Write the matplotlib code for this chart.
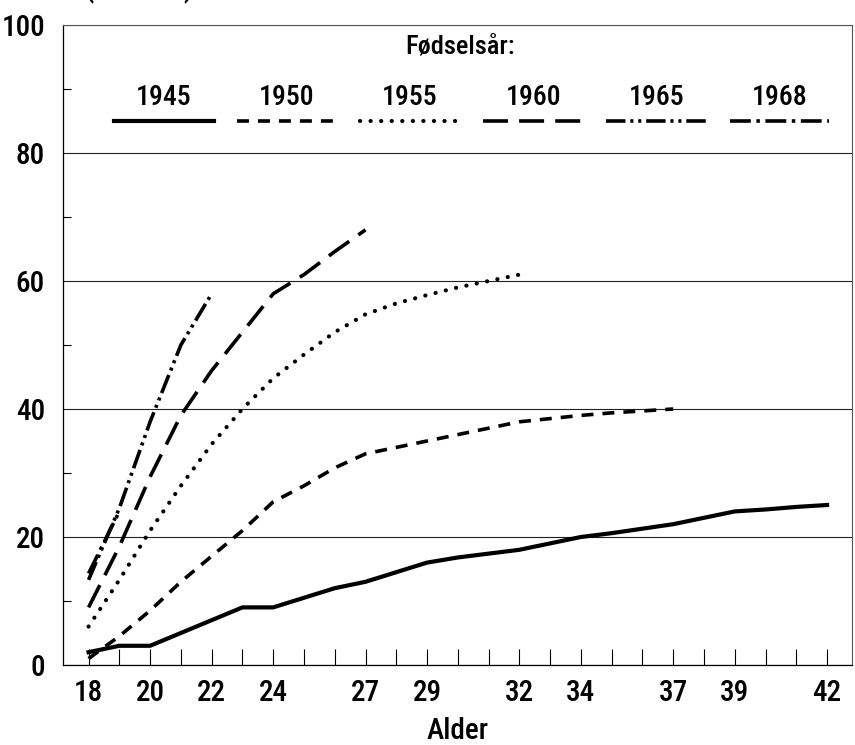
import matplotlib
matplotlib.use("Agg")
import matplotlib.pyplot as plt

plt.rcParams['font.family'] = ['Roboto Condensed', 'Liberation Sans Narrow', 'DejaVu Sans']
plt.rcParams['font.stretch'] = 'condensed'
plt.rcParams['font.weight'] = 'medium'
plt.rcParams['axes.labelweight'] = 'medium'
plt.rcParams['lines.scale_dashes'] = False

# Andel (prosent) etter alder, per fødselskull
birth_years = ["1945", "1950", "1955", "1960", "1965", "1968"]

ages_1945 = list(range(18, 43))
vals_1945 = [2, 3, 3, 5, 7, 9, 9, 10.5, 12, 13, 14.5, 16, 16.8, 17.4, 18,
             19, 20, 20.6, 21.3, 22, 23, 24, 24.3, 24.7, 25]

ages_1950 = list(range(18, 38))
vals_1950 = [1, 4.5, 8.5, 13, 17, 21, 25.5, 28, 30.8, 33, 34, 35, 36, 37, 38,
             38.5, 39, 39.4, 39.7, 40]

ages_1955 = list(range(18, 33))
vals_1955 = [6, 13.3, 21, 28, 34.5, 40, 44.8, 48.5, 52, 54.8, 56.5, 57.8, 59, 60, 61]

ages_1960 = list(range(18, 28))
vals_1960 = [9, 18.5, 29.4, 39, 46, 52, 58, 61, 64.6, 68]

ages_1965 = list(range(18, 23))
vals_1965 = [13.3, 24.5, 38, 50, 58]

ages_1968 = [18, 19]
vals_1968 = [14.3, 24]

xtick_labels = [18, 20, 22, 24, 27, 29, 32, 34, 37, 39, 42]

series = [
    (ages_1945, vals_1945, dict(linestyle='-', linewidth=3.0)),
    (ages_1950, vals_1950, dict(dashes=(8.6, 6.5), linewidth=2.6)),
    (ages_1955, vals_1955, dict(dashes=(0.1, 7.5), linewidth=3.0, dash_capstyle='round')),
    (ages_1960, vals_1960, dict(dashes=(18, 8), linewidth=2.6)),
    (ages_1965, vals_1965, dict(dashes=(14, 3.5, 2.2, 3.5, 2.2, 3.5), linewidth=2.6)),
    (ages_1968, vals_1968, dict(dashes=(15, 4, 2.5, 4), linewidth=2.6)),
]

fig = plt.figure(figsize=(8.55, 7.45), dpi=100)
ax = fig.add_axes([0.0737, 0.1074, 0.9228, 0.859])

for xs, ys, style in series:
    ax.plot(xs, ys, color='black', **style)

ax.set_xlim(17.17, 42.81)
ax.set_ylim(0, 100)

# x ticks at every age, labels only on some
ax.set_xticks(range(18, 43))
ax.set_xticklabels([str(a) if a in xtick_labels else '' for a in range(18, 43)])
ax.tick_params(axis='x', direction='in', length=11.5, width=0.8, pad=10, labelsize=21)

ax.set_yticks([0, 20, 40, 60, 80, 100])
ax.set_yticks([10, 30, 50, 70, 90], minor=True)
ax.tick_params(axis='y', which='major', length=0, pad=13, labelsize=21)
ax.tick_params(axis='y', which='minor', direction='in', length=6, width=0.8)
ax.yaxis.grid(True, which='major', color='#222222', linewidth=0.8)

for s in ['left', 'bottom']:
    ax.spines[s].set_linewidth(0.9)
for s in ['top', 'right']:
    ax.spines[s].set_linewidth(0.8)
    ax.spines[s].set_color('#555555')

ax.set_xlabel('Alder', fontsize=21, labelpad=7)

# legend drawn inside the plot area
ax.text(0.503, 96.6, 'Fødselsår:', transform=ax.get_yaxis_transform(),
        ha='center', va='center', fontsize=19)
for i, (name, (_, _, style)) in enumerate(zip(birth_years, series)):
    cx = 20.45 + 4 * i
    ax.text(cx, 88.6, name, ha='center', va='center', fontsize=20)
    ax.plot([cx - 1.62, cx + 1.62], [85, 85], color='black', **style)

fig.text(139 / 855, 1 + 3 / 745, '(Prosent)', ha='center', va='baseline', fontsize=21)

fig.savefig('out.png', dpi=100)
